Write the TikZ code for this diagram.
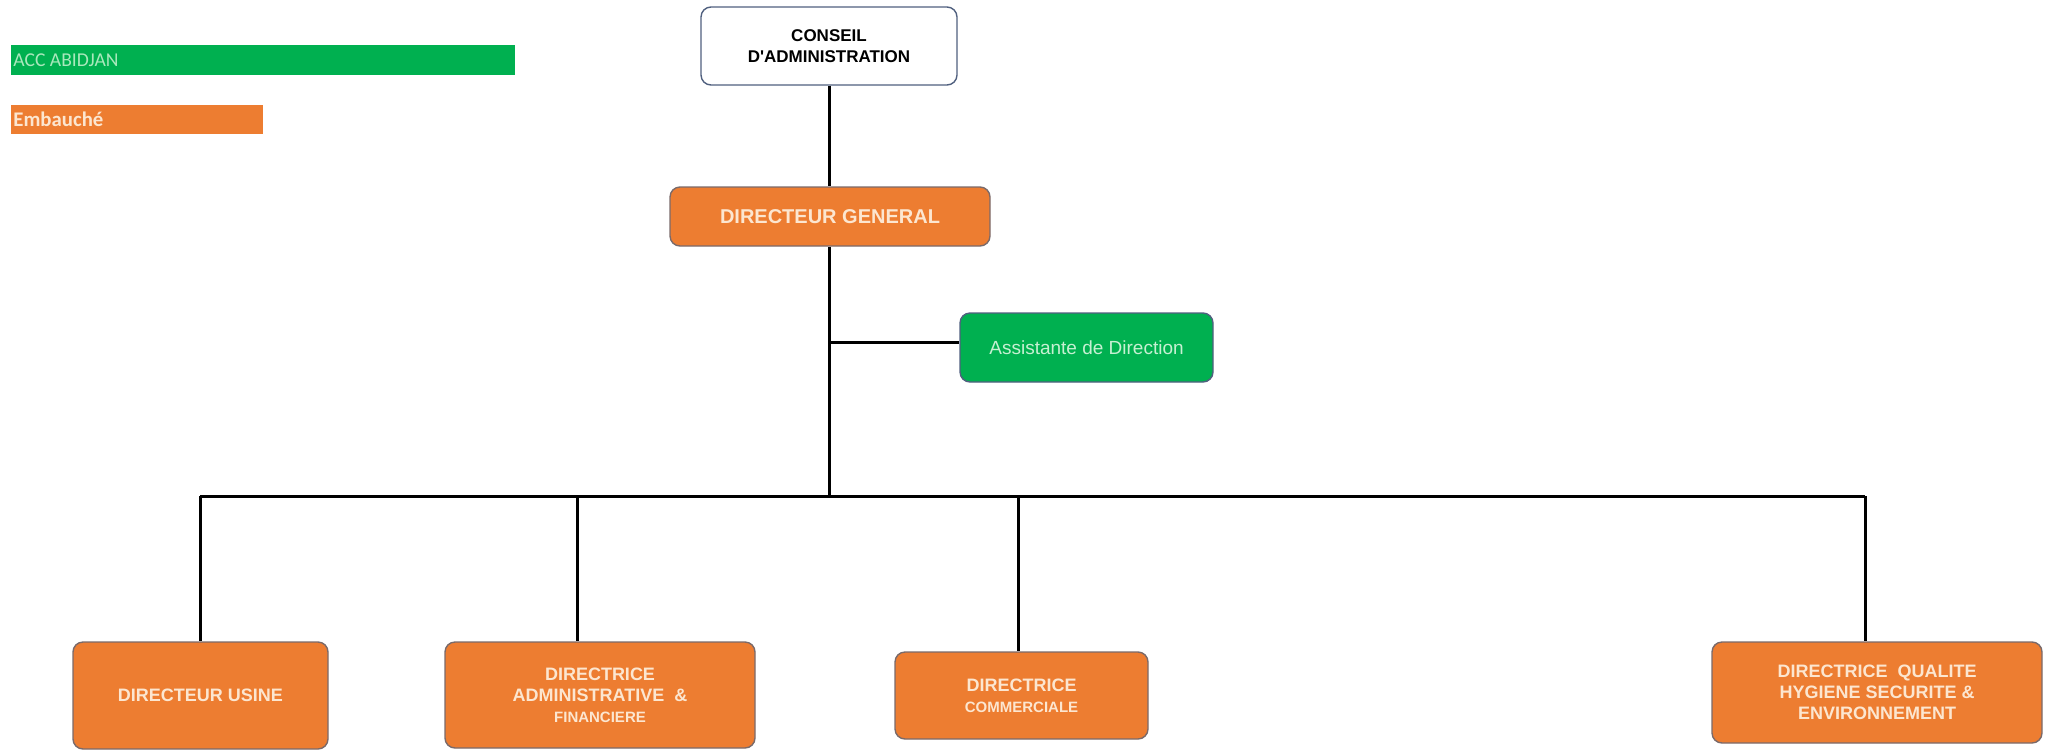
\documentclass[tikz,border=0pt]{standalone}
\usepackage{fontspec}
\setmainfont{Liberation Sans}
\newfontfamily\legendfont{Carlito}
\definecolor{orng}{HTML}{ED7D31}
\definecolor{grn}{HTML}{00B050}
\definecolor{cream}{HTML}{FCE6D0}
\definecolor{lgreen}{HTML}{C6F0D2}
\definecolor{legtxt}{HTML}{A9E8BC}
\definecolor{bordergray}{HTML}{7A6A6A}
\definecolor{borderblue}{HTML}{50607F}
\begin{document}
\begin{tikzpicture}[x=0.5pt,y=-0.5pt,
  box/.style={rounded corners=5pt, draw, line width=0.7pt, align=center, inner sep=0pt},
  orangebox/.style={box, fill=orng, draw=bordergray, text=cream,
    font=\bfseries\fontsize{9}{10.5}\selectfont},
  greenbox/.style={box, fill=grn, draw=borderblue, text=lgreen,
    font=\fontsize{9.5}{11}\selectfont},
  whitebox/.style={box, fill=white, draw=borderblue, text=black,
    font=\bfseries\fontsize{8.5}{10.5}\selectfont},
  legend/.style={draw=none, inner sep=0pt, anchor=north west},
  link/.style={line width=1.5pt, black}]
\useasboundingbox (0,0) rectangle (2048,750);
% legend
\node[legend, fill=grn, minimum width=252pt, minimum height=15pt] (lg1) at (11,45) {};
\node[anchor=west, inner sep=0pt, text=legtxt, font=\legendfont\fontsize{9.8}{10}\selectfont] (lg1t) at (13,60) {ACC ABIDJAN};
\node[legend, fill=orng, minimum width=126pt, minimum height=14.5pt] (lg2) at (11,105) {};
\node[anchor=west, inner sep=0pt, text=cream, font=\legendfont\bfseries\fontsize{10.4}{11}\selectfont] (lg2t) at (13,119.5) {Embauché};
% boxes
\node[whitebox, minimum width=128pt, minimum height=39pt] (CA) at (829,46) {CONSEIL\\D\textquotesingle ADMINISTRATION};
\node[orangebox, minimum width=160pt, minimum height=29.5pt, font=\bfseries\fontsize{10}{12}\selectfont] (DG) at (830,216.5) {DIRECTEUR GENERAL};
\node[greenbox, minimum width=126.5pt, minimum height=34.5pt] (AS) at (1086.5,347.5) {Assistante de Direction};
\node[orangebox, minimum width=127.5pt, minimum height=53.5pt] (DU) at (200.5,695.5) {DIRECTEUR USINE};
\node[orangebox, minimum width=155pt, minimum height=53pt] (DAF) at (600,695) {DIRECTRICE\\ADMINISTRATIVE\ \ \&\\{\fontsize{7.5}{10.5}\selectfont FINANCIERE}};
\node[orangebox, minimum width=126.5pt, minimum height=43.5pt] (DC) at (1021.5,695.5) {DIRECTRICE\\{\fontsize{7.5}{10.5}\selectfont COMMERCIALE}};
\node[orangebox, minimum width=165pt, minimum height=50.5pt] (DQ) at (1877,692.5) {DIRECTRICE\ \ QUALITE\\HYGIENE SECURITE \&\\ENVIRONNEMENT};
% bus coordinates
\coordinate (b1) at (200,496);
\coordinate (b2) at (577,496);
\coordinate (b3) at (1018,496);
\coordinate (b4) at (1865,496);
\coordinate (trunk) at (829,496);
\coordinate (ja) at (829,342);
% connectors
\draw[link] (CA.south) -- (CA.south |- DG.north);
\draw[link] (DG.south -| trunk) -- (trunk);
\draw[link] (ja) -- (ja -| AS.west);
\draw[link] (b1) -- (b4);
\draw[link] (b1) -- (b1 |- DU.north);
\draw[link] (b2) -- (b2 |- DAF.north);
\draw[link] (b3) -- (b3 |- DC.north);
\draw[link] (b4) -- (b4 |- DQ.north);
\end{tikzpicture}
\end{document}
